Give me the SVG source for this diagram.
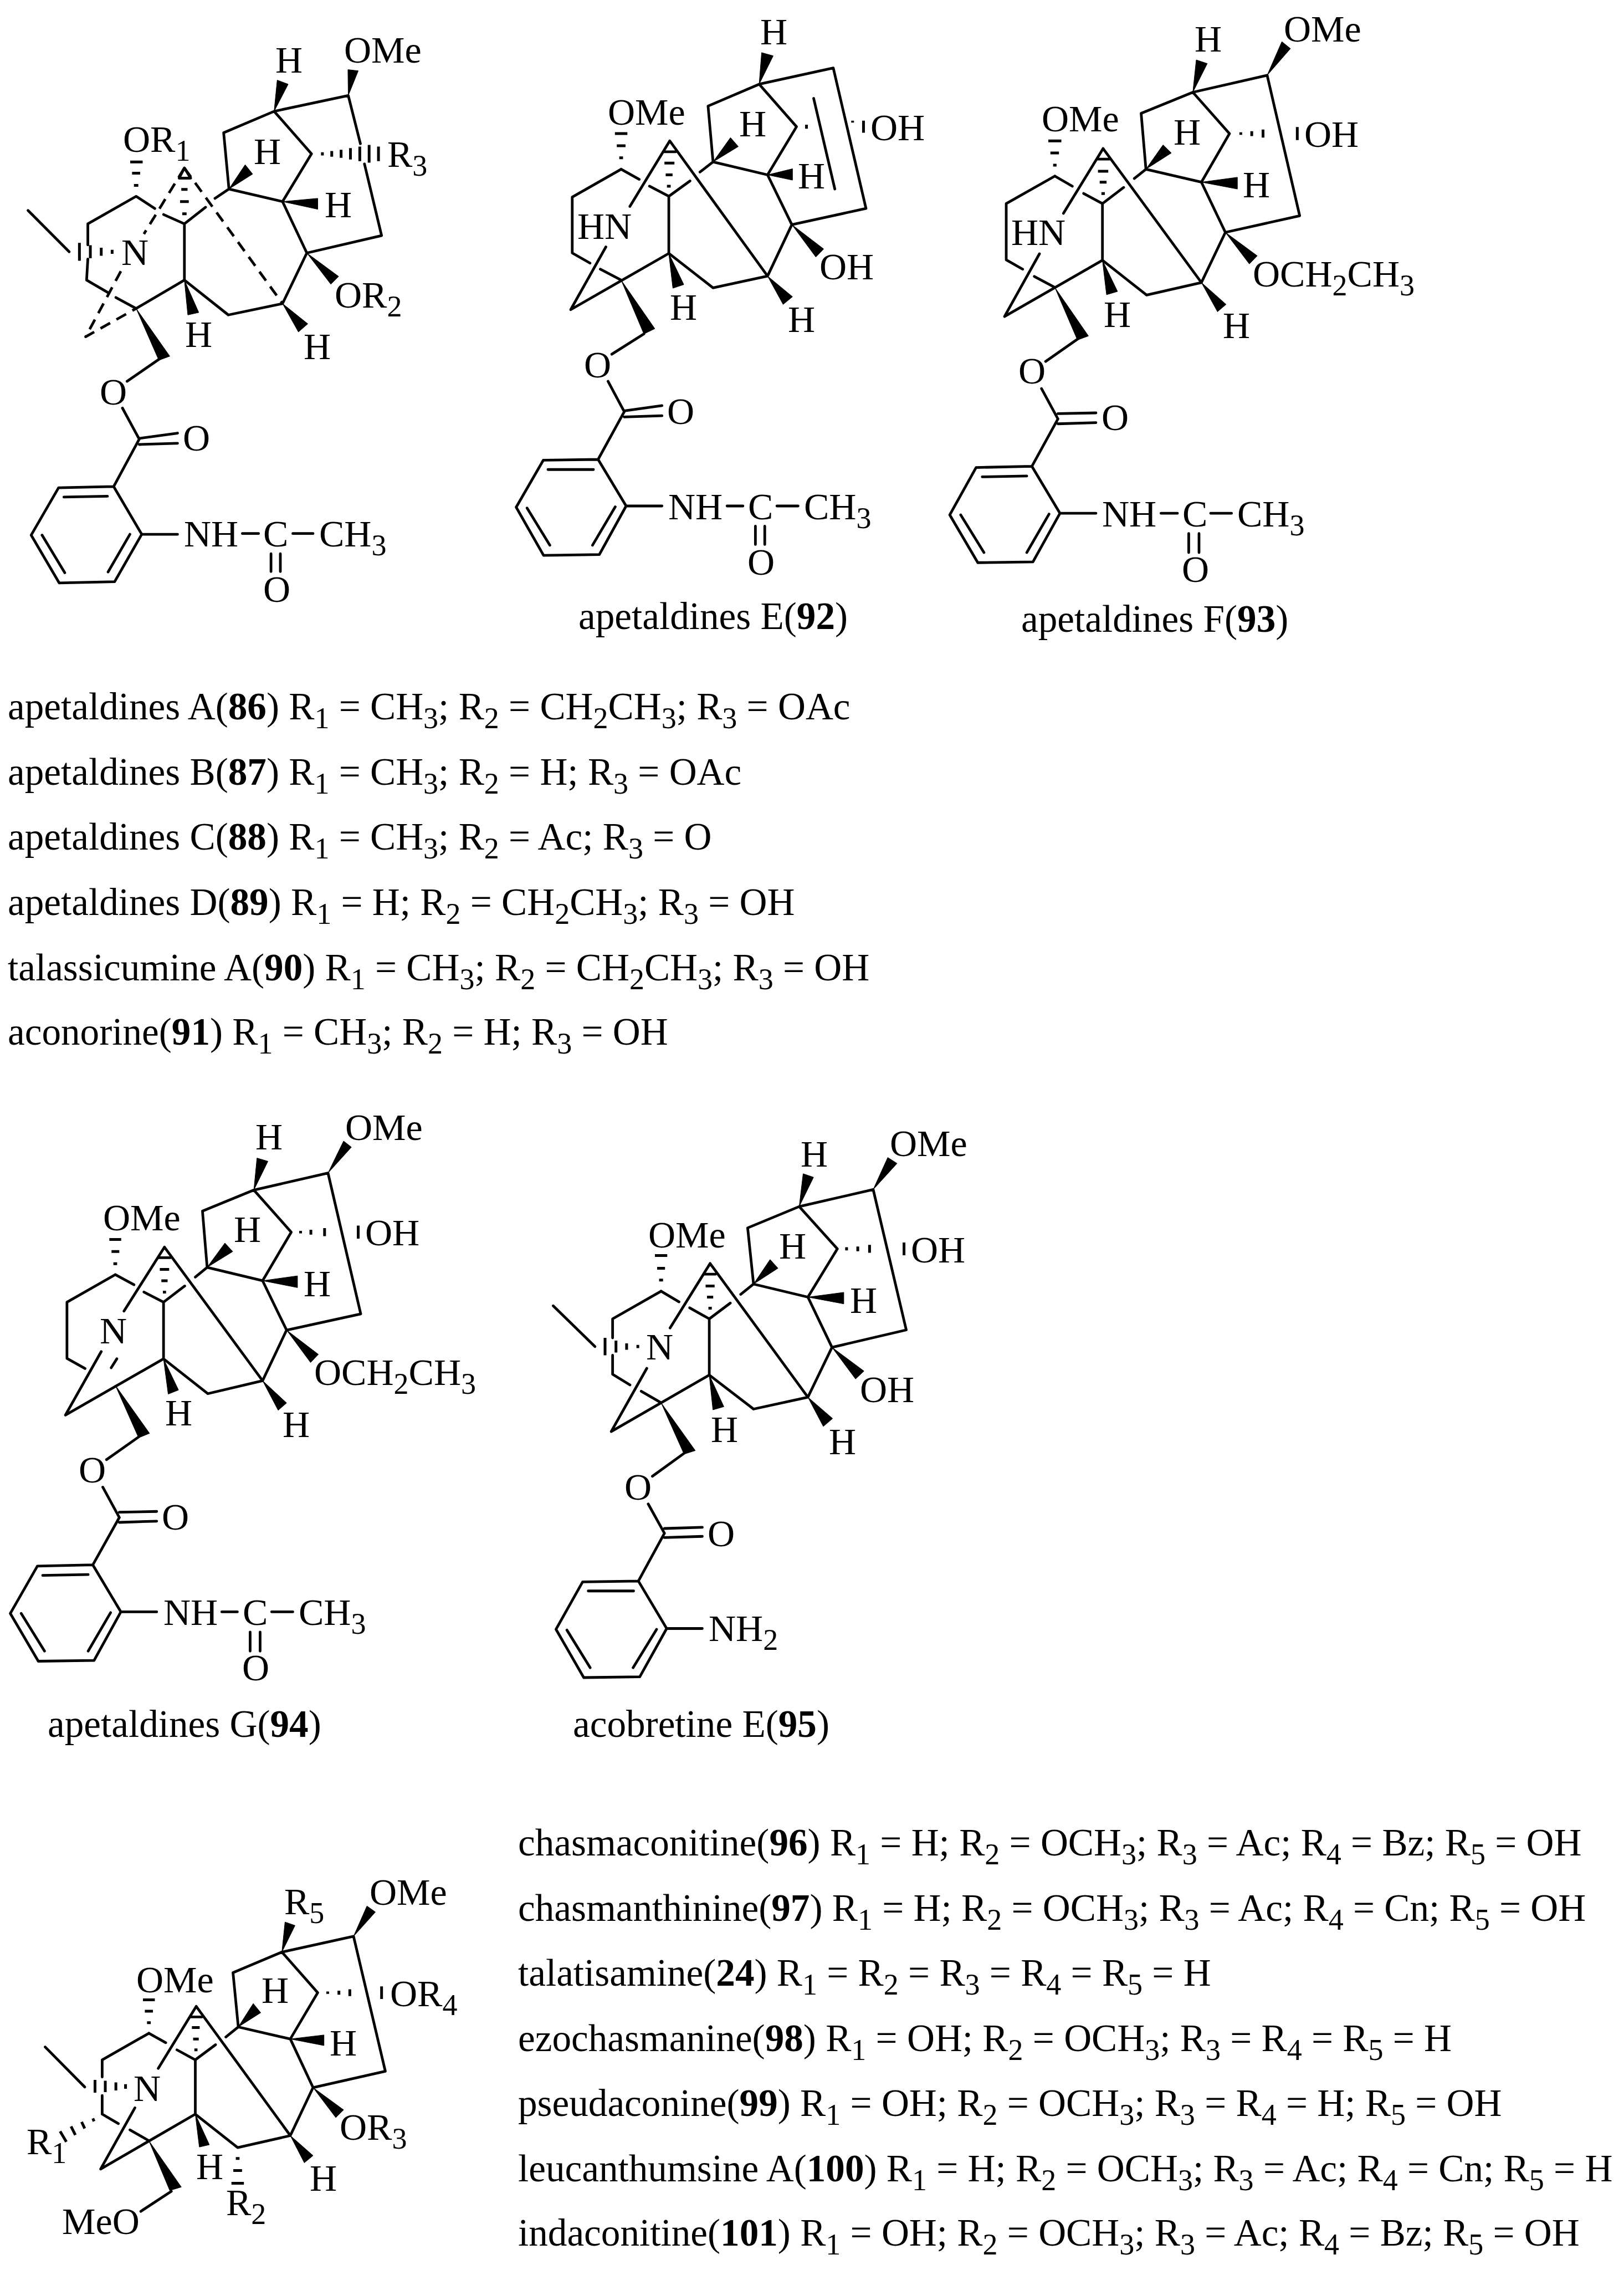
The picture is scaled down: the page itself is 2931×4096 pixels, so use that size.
<svg xmlns="http://www.w3.org/2000/svg" width="2931" height="4096" viewBox="0 0 2931 4096">
<style>
text{font-family:"Liberation Serif","Times New Roman",serif;fill:#000}
.t{font-size:69.2px}
.l{font-size:68px}
.s{font-size:54px}
.n{font-weight:bold}
.b,.d,.h{fill:none;stroke:#000;stroke-linecap:round;stroke-linejoin:round;vector-effect:non-scaling-stroke}
.b{stroke-width:4.8}
.d{stroke-width:4.8;stroke-linecap:butt;stroke-dasharray:20 13}
.h{stroke-width:5;stroke-linecap:butt}
.w{fill:#000;stroke:#000;stroke-width:1;vector-effect:non-scaling-stroke}
</style>
<rect width="2931" height="4096" fill="#fff"/>

<g id="mol-86">
<g class="bonds" transform="matrix(.5622 0 0 .7304 0 0)">
<path class="b" d="M880 275L1118 236L1157 355M1170 405L1225 582L985 625L907 750L733 778L592 692V553M985 625L907 498L1000 380L880 275L718 328L735 467L907 498M592 692L437 762L372 735M345 722L278 692L282 640M282 605V553L437 485L497 515M525 530L592 553L660 512M690 490L735 467M515 885L408 942M393 1008L447 1085M447 1083L570 1070M447 1098L570 1095M447 1085L365 1202L188 1205L100 1322L190 1440L368 1437L455 1320L365 1202M205 1228L345 1226M135 1322L208 1415M347 1413L417 1320M455 1320H570M778 1318H830M940 1318H1005M870 1368V1412M900 1368V1412M90 520L222 622M575 440L592 415L612 440Z"/>
<path class="d" d="M592 415L462 578M592 415L907 750M388 670L275 832L437 762"/>
<path class="w" d="M1118 236L1117 172L1150 175ZM880 275L890 198L925 208ZM735 467L787 407L811 430ZM907 498L1020 490V517ZM985 625L1087 683L1062 702ZM907 750L988 800L958 820ZM592 692L638 772L603 778ZM437 762L545 880L510 890Z"/>
<path class="h" d="M1035 376V384M1065 373V387M1095 370V390M1125 366V394M1155 362V398M1185 358V402M1215 362V398M418 400H458M424 428H450M430 458H444M582 468H602M578 498H606M574 440H610M585 528H599M360 617V627M325 612V632M290 606V638M255 600V644"/>
</g>
<g class="labels">
<text class="l" x="222" y="274">OR<tspan class="s" dy="16">1</tspan></text>
<text class="l" x="497" y="131">H</text>
<text class="l" x="621" y="113">OMe</text>
<text class="l" x="458" y="296">H</text>
<text class="l" x="699" y="301">R<tspan class="s" dy="16">3</tspan></text>
<text class="l" x="586" y="392">H</text>
<text class="l" x="219" y="478">N</text>
<text class="l" x="604" y="555">OR<tspan class="s" dy="16">2</tspan></text>
<text class="l" x="334" y="626">H</text>
<text class="l" x="548" y="648">H</text>
<text class="l" x="180" y="730">O</text>
<text class="l" x="330" y="813">O</text>
<text class="l" x="332" y="986">NH</text>
<text class="l" x="475" y="986">C</text>
<text class="l" x="576" y="986">CH<tspan class="s" dy="16">3</tspan></text>
<text class="l" x="475" y="1086">O</text>
</g>
</g>

<g id="mol-92">
<g class="bonds" transform="matrix(.5622 0 0 .7304 881 0)">
<path class="b" d="M870 208L1108 168L1213 515L975 555L897 682L722 711L580 626V485M975 555L897 432L990 313L870 208L706 262L722 400L897 432M1045 243L1113 467M580 626L265 765L378 610M583 348L897 682M583 348L455 510M427 418L270 487V625L327 650M360 665L427 692M427 418L485 443M518 460L580 485L648 447M680 425L722 400M500 825L397 875M385 942L437 1017M437 1015L558 1002M437 1030L558 1027M437 1017L353 1135L177 1137L90 1253L178 1372L357 1370L443 1250L353 1135M192 1160L338 1160M125 1255L198 1347M335 1347L408 1252M443 1250H558M767 1250H818M927 1250H995M858 1300V1345M888 1300V1345M565 375H602"/>
<path class="w" d="M870 208L878 130L915 138ZM722 400L778 340L803 362ZM897 432L977 417V445ZM975 555L1077 615L1052 635ZM897 682L977 733L947 752ZM580 626L628 703L593 712ZM427 692L535 812L500 825Z"/>
<path class="h" d="M421 390H433M413 360H441M407 330H447M566 403H598M570 432H592M574 460H586M1022 308V318M1170 298V303M1205 298V328"/>
</g>
<g class="labels">
<text class="l" x="1372" y="80">H</text>
<text class="l" x="1097" y="225">OMe</text>
<text class="l" x="1334" y="246">H</text>
<text class="l" x="1571" y="253">OH</text>
<text class="l" x="1440" y="340">H</text>
<text class="l" x="1042" y="431">HN</text>
<text class="l" x="1479" y="504">OH</text>
<text class="l" x="1209" y="577">H</text>
<text class="l" x="1422" y="599">H</text>
<text class="l" x="1054" y="681">O</text>
<text class="l" x="1204" y="765">O</text>
<text class="l" x="1206" y="937">NH</text>
<text class="l" x="1350" y="937">C</text>
<text class="l" x="1451" y="937">CH<tspan class="s" dy="16">3</tspan></text>
<text class="l" x="1349" y="1037">O</text>
<text class="t" x="1044" y="1135">apetaldines E(<tspan class="n">92</tspan>)</text>
</g>
</g>

<g id="mol-93">
<g class="bonds" transform="matrix(.618 0 0 .7304 1673.9 0)">
<path class="b" d="M775 228L992 186L1087 533L870 574L800 698L640 729L511 643V503M870 574L800 450L882 330L775 228L624 280L638 418L800 450M511 643L225 782L327 627M513 367L800 698M513 367L397 527M372 435L230 503V642L278 665M312 683L372 710M372 435L423 460M456 478L511 503L573 463M604 441L638 418M438 838L345 893M333 960L381 1035M381 1022L492 1020M381 1047L492 1044M381 1035L305 1152L142 1155L65 1272L147 1390L308 1388L387 1268L305 1152M160 1178L290 1176M97 1272L165 1365M290 1365L355 1270M387 1268H492M682 1268H730M827 1268H888M763 1318V1365M793 1318V1365M495 393H532"/>
<path class="w" d="M992 186L1060 120L1035 103ZM775 228L785 148L817 157ZM638 418L688 358L712 378ZM800 450L905 438V467ZM870 574L963 632L940 652ZM800 698L872 752L847 770ZM511 643L555 720L523 728ZM372 710L470 830L438 840Z"/>
<path class="h" d="M367 408H377M359 378H384M353 348H391M498 423H528M503 450H523M508 478H518M915 327V333M947 324V336M980 320V340M1080 314V346"/>
</g>
<g class="labels">
<text class="l" x="2156" y="93">H</text>
<text class="l" x="2317" y="75">OMe</text>
<text class="l" x="1880" y="237">OMe</text>
<text class="l" x="2118" y="261">H</text>
<text class="l" x="2354" y="265">OH</text>
<text class="l" x="2243" y="356">H</text>
<text class="l" x="1825" y="442">HN</text>
<text class="l" x="2261" y="517">OCH<tspan class="s" dy="16">2</tspan><tspan dy="-16">CH</tspan><tspan class="s" dy="16">3</tspan></text>
<text class="l" x="1992" y="590">H</text>
<text class="l" x="2207" y="610">H</text>
<text class="l" x="1838" y="692">O</text>
<text class="l" x="1988" y="776">O</text>
<text class="l" x="1989" y="950">NH</text>
<text class="l" x="2134" y="950">C</text>
<text class="l" x="2233" y="950">CH<tspan class="s" dy="16">3</tspan></text>
<text class="l" x="2133" y="1050">O</text>
<text class="t" x="1843" y="1140">apetaldines F(<tspan class="n">93</tspan>)</text>
</g>
</g>

<g id="list-86-91">
<text class="t" x="14" y="1298">apetaldines A(<tspan class="n">86</tspan>) R<tspan class="s" dy="16">1</tspan><tspan dy="-16"> = CH</tspan><tspan class="s" dy="16">3</tspan><tspan dy="-16">; R</tspan><tspan class="s" dy="16">2</tspan><tspan dy="-16"> = CH</tspan><tspan class="s" dy="16">2</tspan><tspan dy="-16">CH</tspan><tspan class="s" dy="16">3</tspan><tspan dy="-16">; R</tspan><tspan class="s" dy="16">3</tspan><tspan dy="-16"> = OAc</tspan></text>
<text class="t" x="14" y="1416">apetaldines B(<tspan class="n">87</tspan>) R<tspan class="s" dy="16">1</tspan><tspan dy="-16"> = CH</tspan><tspan class="s" dy="16">3</tspan><tspan dy="-16">; R</tspan><tspan class="s" dy="16">2</tspan><tspan dy="-16"> = H; R</tspan><tspan class="s" dy="16">3</tspan><tspan dy="-16"> = OAc</tspan></text>
<text class="t" x="14" y="1533">apetaldines C(<tspan class="n">88</tspan>) R<tspan class="s" dy="16">1</tspan><tspan dy="-16"> = CH</tspan><tspan class="s" dy="16">3</tspan><tspan dy="-16">; R</tspan><tspan class="s" dy="16">2</tspan><tspan dy="-16"> = Ac; R</tspan><tspan class="s" dy="16">3</tspan><tspan dy="-16"> = O</tspan></text>
<text class="t" x="14" y="1651">apetaldines D(<tspan class="n">89</tspan>) R<tspan class="s" dy="16">1</tspan><tspan dy="-16"> = H; R</tspan><tspan class="s" dy="16">2</tspan><tspan dy="-16"> = CH</tspan><tspan class="s" dy="16">2</tspan><tspan dy="-16">CH</tspan><tspan class="s" dy="16">3</tspan><tspan dy="-16">; R</tspan><tspan class="s" dy="16">3</tspan><tspan dy="-16"> = OH</tspan></text>
<text class="t" x="14" y="1769">talassicumine A(<tspan class="n">90</tspan>) R<tspan class="s" dy="16">1</tspan><tspan dy="-16"> = CH</tspan><tspan class="s" dy="16">3</tspan><tspan dy="-16">; R</tspan><tspan class="s" dy="16">2</tspan><tspan dy="-16"> = CH</tspan><tspan class="s" dy="16">2</tspan><tspan dy="-16">CH</tspan><tspan class="s" dy="16">3</tspan><tspan dy="-16">; R</tspan><tspan class="s" dy="16">3</tspan><tspan dy="-16"> = OH</tspan></text>
<text class="t" x="14" y="1885">aconorine(<tspan class="n">91</tspan>) R<tspan class="s" dy="16">1</tspan><tspan dy="-16"> = CH</tspan><tspan class="s" dy="16">3</tspan><tspan dy="-16">; R</tspan><tspan class="s" dy="16">2</tspan><tspan dy="-16"> = H; R</tspan><tspan class="s" dy="16">3</tspan><tspan dy="-16"> = OH</tspan></text>
</g>

<g id="mol-94">
<g class="bonds" transform="matrix(.5622 0 0 .7304 0 1982.25)">
<path class="b" d="M815 226L1053 184L1158 532L920 572L843 697L667 729L525 643V503M920 572L843 450L935 330L815 226L650 278L665 417L843 450M525 643L210 782L325 625M528 367L843 697M528 367L398 525M370 435L215 503V642L273 667M357 665L375 643M370 435L430 460M462 478L525 503L593 463M627 441L665 417M445 836L342 892M330 960L383 1035M383 1022L503 1020M383 1047L503 1044M383 1035L298 1152L120 1155L33 1272L123 1390L302 1388L388 1268L298 1152M137 1178L283 1176M68 1272L143 1365M283 1365L355 1270M388 1268H503M712 1268H762M872 1268H940M803 1318V1365M835 1318V1365M510 393H547"/>
<path class="w" d="M1053 184L1128 120L1103 105ZM815 226L825 147L860 155ZM665 417L722 357L747 378ZM843 450L955 438V467ZM920 572L1022 632L997 652ZM843 697L920 752L893 770ZM525 643L573 720L540 730ZM370 708L480 827L445 838Z"/>
<path class="h" d="M364 408H376M358 378H383M351 348H389M513 422H543M518 450H538M523 478H533M965 327V333M998 324V336M1042 320V340M1150 314V346"/>
</g>
<g class="labels">
<text class="l" x="461" y="2074">H</text>
<text class="l" x="623" y="2057">OMe</text>
<text class="l" x="186" y="2220">OMe</text>
<text class="l" x="422" y="2241">H</text>
<text class="l" x="659" y="2247">OH</text>
<text class="l" x="548" y="2339">H</text>
<text class="l" x="180" y="2424">N</text>
<text class="l" x="567" y="2499">OCH<tspan class="s" dy="16">2</tspan><tspan dy="-16">CH</tspan><tspan class="s" dy="16">3</tspan></text>
<text class="l" x="298" y="2572">H</text>
<text class="l" x="510" y="2593">H</text>
<text class="l" x="142" y="2675">O</text>
<text class="l" x="292" y="2760">O</text>
<text class="l" x="295" y="2932">NH</text>
<text class="l" x="438" y="2932">C</text>
<text class="l" x="539" y="2932">CH<tspan class="s" dy="16">3</tspan></text>
<text class="l" x="437" y="3032">O</text>
<text class="t" x="86" y="3134">apetaldines G(<tspan class="n">94</tspan>)</text>
</g>
</g>

<g id="mol-95">
<g class="bonds" transform="matrix(.5057 0 0 .7136 969.1 2008.7)">
<path class="b" d="M936 236L1200 193L1318 548L1053 592L967 718L773 748L615 662V520M1053 592L967 465L1072 343L936 236L752 290L773 432L967 465M615 662L265 805L392 645M618 380L967 718M618 380L475 543M443 450L270 520V568M270 612V660L332 687M372 703L443 732M443 450L507 477M545 492L615 520L690 480M727 458L773 432M525 860L412 918M397 988L455 1062M455 1050L590 1047M455 1073L590 1070M455 1062L362 1183L163 1185L68 1305L167 1427L367 1425L463 1303L362 1183M183 1208L345 1208M107 1307L190 1402M343 1402L427 1305M463 1303H590M58 487L207 590M598 407H637"/>
<path class="w" d="M1200 193L1285 127L1252 112ZM936 236L987 162L950 153ZM773 432L860 392L832 370ZM967 465L1095 453V482ZM1053 592L1167 652L1137 672ZM967 718L1055 772L1022 792ZM615 662L667 742L628 750ZM443 732L565 853L525 862Z"/>
<path class="h" d="M436 422H450M429 392H457M421 360H465M602 437H634M607 465H629M612 493H624M360 586V594M320 582V598M282 575V605M243 568V612M1105 339V347M1145 337V349M1187 333V353M1310 327V359"/>
</g>
<g class="labels">
<text class="l" x="1445" y="2105">H</text>
<text class="l" x="1606" y="2086">OMe</text>
<text class="l" x="1170" y="2251">OMe</text>
<text class="l" x="1406" y="2271">H</text>
<text class="l" x="1644" y="2278">OH</text>
<text class="l" x="1534" y="2369">H</text>
<text class="l" x="1166" y="2453">N</text>
<text class="l" x="1552" y="2530">OH</text>
<text class="l" x="1283" y="2602">H</text>
<text class="l" x="1496" y="2624">H</text>
<text class="l" x="1127" y="2706">O</text>
<text class="l" x="1277" y="2790">O</text>
<text class="l" x="1279" y="2961">NH<tspan class="s" dy="16">2</tspan></text>
<text class="t" x="1034" y="3134">acobretine E(<tspan class="n">95</tspan>)</text>
</g>
</g>

<g id="mol-96-101">
<g class="bonds" transform="matrix(.5622 0 0 .5158 0 3286.1)">
<path class="b" d="M905 458L1135 403L1237 875L1005 932L932 1100L763 1142L627 1025V835M1005 932L932 762L1020 600L905 458L748 530L765 720L932 762M627 1025L323 1217L433 1003M630 648L932 1100M630 648L508 865M478 742L328 835V895M328 960V1025L380 1058M417 1080L478 1118M478 742L532 775M568 800L627 835L692 782M725 755L765 720M550 1295L452 1365M145 790L272 930M610 685H648"/>
<path class="w" d="M1135 403L1205 318L1178 297ZM905 458L947 365L915 353ZM765 720L837 670L813 638ZM932 762L1040 748V785ZM1005 932L1103 1010L1078 1037ZM932 1100L1005 1170L977 1195ZM627 1025L672 1132L640 1140ZM478 1118L582 1280L545 1292Z"/>
<path class="h" d="M472 705H484M465 665H491M459 625H497M616 722H641M620 762H638M624 800H634M403 920V936M372 914V942M338 908V948M305 905V950M298 1040L302 1050M262 1052L272 1075M228 1068L242 1098M193 1085L213 1122M757 1180H769M749 1222H777M743 1267H783M1052 596V604M1088 593V607M1123 588V612M1225 578V622"/>
</g>
<g class="labels">
<text class="l" x="513" y="3454">R<tspan class="s" dy="16">5</tspan></text>
<text class="l" x="667" y="3437">OMe</text>
<text class="l" x="472" y="3614">H</text>
<text class="l" x="246" y="3595">OMe</text>
<text class="l" x="704" y="3620">OR<tspan class="s" dy="16">4</tspan></text>
<text class="l" x="595" y="3709">H</text>
<text class="l" x="241" y="3791">N</text>
<text class="l" x="613" y="3861">OR<tspan class="s" dy="16">3</tspan></text>
<text class="l" x="48" y="3887">R<tspan class="s" dy="16">1</tspan></text>
<text class="l" x="354" y="3932">H</text>
<text class="l" x="408" y="3997">R<tspan class="s" dy="16">2</tspan></text>
<text class="l" x="559" y="3953">H</text>
<text class="l" x="112" y="4031">MeO</text>
</g>
</g>

<g id="list-96-101">
<text class="t" x="935" y="3348">chasmaconitine(<tspan class="n">96</tspan>) R<tspan class="s" dy="16">1</tspan><tspan dy="-16"> = H; R</tspan><tspan class="s" dy="16">2</tspan><tspan dy="-16"> = OCH</tspan><tspan class="s" dy="16">3</tspan><tspan dy="-16">; R</tspan><tspan class="s" dy="16">3</tspan><tspan dy="-16"> = Ac; R</tspan><tspan class="s" dy="16">4</tspan><tspan dy="-16"> = Bz; R</tspan><tspan class="s" dy="16">5</tspan><tspan dy="-16"> = OH</tspan></text>
<text class="t" x="935" y="3466">chasmanthinine(<tspan class="n">97</tspan>) R<tspan class="s" dy="16">1</tspan><tspan dy="-16"> = H; R</tspan><tspan class="s" dy="16">2</tspan><tspan dy="-16"> = OCH</tspan><tspan class="s" dy="16">3</tspan><tspan dy="-16">; R</tspan><tspan class="s" dy="16">3</tspan><tspan dy="-16"> = Ac; R</tspan><tspan class="s" dy="16">4</tspan><tspan dy="-16"> = Cn; R</tspan><tspan class="s" dy="16">5</tspan><tspan dy="-16"> = OH</tspan></text>
<text class="t" x="935" y="3583">talatisamine(<tspan class="n">24</tspan>) R<tspan class="s" dy="16">1</tspan><tspan dy="-16"> = R</tspan><tspan class="s" dy="16">2</tspan><tspan dy="-16"> = R</tspan><tspan class="s" dy="16">3</tspan><tspan dy="-16"> = R</tspan><tspan class="s" dy="16">4</tspan><tspan dy="-16"> = R</tspan><tspan class="s" dy="16">5</tspan><tspan dy="-16"> = H</tspan></text>
<text class="t" x="935" y="3701">ezochasmanine(<tspan class="n">98</tspan>) R<tspan class="s" dy="16">1</tspan><tspan dy="-16"> = OH; R</tspan><tspan class="s" dy="16">2</tspan><tspan dy="-16"> = OCH</tspan><tspan class="s" dy="16">3</tspan><tspan dy="-16">; R</tspan><tspan class="s" dy="16">3</tspan><tspan dy="-16"> = R</tspan><tspan class="s" dy="16">4</tspan><tspan dy="-16"> = R</tspan><tspan class="s" dy="16">5</tspan><tspan dy="-16"> = H</tspan></text>
<text class="t" x="935" y="3818">pseudaconine(<tspan class="n">99</tspan>) R<tspan class="s" dy="16">1</tspan><tspan dy="-16"> = OH; R</tspan><tspan class="s" dy="16">2</tspan><tspan dy="-16"> = OCH</tspan><tspan class="s" dy="16">3</tspan><tspan dy="-16">; R</tspan><tspan class="s" dy="16">3</tspan><tspan dy="-16"> = R</tspan><tspan class="s" dy="16">4</tspan><tspan dy="-16"> = H; R</tspan><tspan class="s" dy="16">5</tspan><tspan dy="-16"> = OH</tspan></text>
<text class="t" x="935" y="3936">leucanthumsine A(<tspan class="n">100</tspan>) R<tspan class="s" dy="16">1</tspan><tspan dy="-16"> = H; R</tspan><tspan class="s" dy="16">2</tspan><tspan dy="-16"> = OCH</tspan><tspan class="s" dy="16">3</tspan><tspan dy="-16">; R</tspan><tspan class="s" dy="16">3</tspan><tspan dy="-16"> = Ac; R</tspan><tspan class="s" dy="16">4</tspan><tspan dy="-16"> = Cn; R</tspan><tspan class="s" dy="16">5</tspan><tspan dy="-16"> = H</tspan></text>
<text class="t" x="935" y="4052">indaconitine(<tspan class="n">101</tspan>) R<tspan class="s" dy="16">1</tspan><tspan dy="-16"> = OH; R</tspan><tspan class="s" dy="16">2</tspan><tspan dy="-16"> = OCH</tspan><tspan class="s" dy="16">3</tspan><tspan dy="-16">; R</tspan><tspan class="s" dy="16">3</tspan><tspan dy="-16"> = Ac; R</tspan><tspan class="s" dy="16">4</tspan><tspan dy="-16"> = Bz; R</tspan><tspan class="s" dy="16">5</tspan><tspan dy="-16"> = OH</tspan></text>
</g>
</svg>
